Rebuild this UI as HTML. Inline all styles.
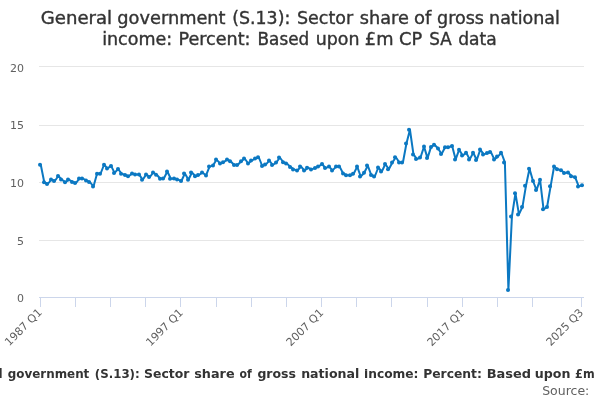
<!DOCTYPE html>
<html><head><meta charset="utf-8">
<style>
html,body{margin:0;padding:0;background:#fff;}
svg{display:block;font-family:"DejaVu Sans","Liberation Sans",sans-serif;}
</style></head><body>
<svg width="600" height="400" viewBox="0 0 600 400">
<rect width="600" height="400" fill="#fff"/>
<path d="M39 66.5H584M39 125.5H584M39 182.5H584M39 240.5H584" stroke="#e6e6e6" stroke-width="1" fill="none"/>
<path d="M39 297.5H584" stroke="#ccd6eb" stroke-width="1" fill="none"/>
<path d="M40.5 298V307M75.5 298V307M110.5 298V307M145.5 298V307M180.5 298V307M216.5 298V307M251.5 298V307M286.5 298V307M321.5 298V307M356.5 298V307M391.5 298V307M427.5 298V307M462.5 298V307M497.5 298V307M532.5 298V307M581.5 298V307" stroke="#ccd6eb" stroke-width="1" fill="none"/>
<path d="M40.76 164.75 L44.27 182.25 L47.79 184 L51.31 179.6 L54.82 181 L58.34 176 L61.85 179.6 L65.37 182.25 L68.89 179.6 L72.4 181.9 L75.92 183.1 L79.44 178.5 L82.95 178.5 L86.47 180.6 L89.98 182.1 L93.5 186.5 L97.02 173.75 L100.53 173.75 L104.05 164.75 L107.56 168.4 L111.08 165.9 L114.6 172.9 L118.11 169 L121.63 173.75 L125.15 175 L128.66 176.25 L132.18 173.5 L135.69 174.6 L139.21 174.6 L142.73 179.75 L146.24 174.4 L149.76 177.1 L153.27 172.5 L156.79 174.75 L160.31 178.75 L163.82 178.5 L167.34 171.5 L170.85 178.75 L174.37 178.5 L177.89 179.6 L181.4 181 L184.92 173.4 L188.44 179.75 L191.95 172.5 L195.47 176.25 L198.98 175 L202.5 172.5 L206.02 175.4 L209.53 166.6 L213.05 165.6 L216.56 159.6 L220.08 163.4 L223.6 162.25 L227.11 159.6 L230.63 161.25 L234.15 165 L237.66 165 L241.18 161.25 L244.69 158.5 L248.21 163.5 L251.73 160.6 L255.24 158.5 L258.76 157.25 L262.27 166 L265.79 164.6 L269.31 160.6 L272.82 165 L276.34 162.5 L279.85 157.5 L283.37 162.25 L286.89 163.5 L290.4 166.9 L293.92 169.4 L297.44 170.6 L300.95 166.5 L304.47 170.6 L307.98 167.75 L311.5 169.4 L315.02 168.1 L318.53 166.6 L322.05 164 L325.56 168.1 L329.08 166.6 L332.6 170.4 L336.11 166.6 L339.63 166.6 L343.15 173.5 L346.66 175.25 L350.18 175.25 L353.69 173.75 L357.21 166.6 L360.73 176.5 L364.24 172.75 L367.76 165.6 L371.27 175 L374.79 176.5 L378.31 167.5 L381.82 171.6 L385.34 164 L388.85 169.2 L392.37 162.5 L395.89 157.25 L399.4 162.5 L402.92 162.5 L406.44 143.5 L409.95 129.75 L413.47 154.4 L416.98 159.1 L420.5 157.5 L424.02 146.6 L427.53 158.1 L431.05 146.9 L434.56 144.75 L438.08 148.5 L441.6 154 L445.11 147.25 L448.63 147.25 L452.15 146 L455.66 159.4 L459.18 149.7 L462.69 155.6 L466.21 152.75 L469.73 159.4 L473.24 152.75 L476.76 160 L480.27 149.6 L483.79 154.4 L487.31 153.1 L490.82 151.9 L494.34 159.4 L497.85 156.6 L501.37 152.75 L504.89 162.4 L508.4 290 L511.92 216.5 L515.44 193.3 L518.95 214.4 L522.47 206.9 L525.98 185.7 L529.5 168.75 L533.02 181 L536.53 190.1 L540.05 179.7 L543.56 209.3 L547.08 207 L550.6 186.3 L554.11 166.5 L557.63 169.2 L561.15 170.25 L564.66 173 L568.18 172.5 L571.69 176.25 L575.21 177.3 L578.73 186.4 L582.24 185.25" stroke="#0b78c2" stroke-width="2" fill="none" stroke-linejoin="round" stroke-linecap="round"/>
<g fill="#0b78c2"><circle cx="40" cy="164.75" r="2"/><circle cx="44" cy="182.25" r="2"/><circle cx="47" cy="184" r="2"/><circle cx="51" cy="179.6" r="2"/><circle cx="54" cy="181" r="2"/><circle cx="58" cy="176" r="2"/><circle cx="61" cy="179.6" r="2"/><circle cx="65" cy="182.25" r="2"/><circle cx="68" cy="179.6" r="2"/><circle cx="72" cy="181.9" r="2"/><circle cx="75" cy="183.1" r="2"/><circle cx="79" cy="178.5" r="2"/><circle cx="82" cy="178.5" r="2"/><circle cx="86" cy="180.6" r="2"/><circle cx="89" cy="182.1" r="2"/><circle cx="93" cy="186.5" r="2"/><circle cx="97" cy="173.75" r="2"/><circle cx="100" cy="173.75" r="2"/><circle cx="104" cy="164.75" r="2"/><circle cx="107" cy="168.4" r="2"/><circle cx="111" cy="165.9" r="2"/><circle cx="114" cy="172.9" r="2"/><circle cx="118" cy="169" r="2"/><circle cx="121" cy="173.75" r="2"/><circle cx="125" cy="175" r="2"/><circle cx="128" cy="176.25" r="2"/><circle cx="132" cy="173.5" r="2"/><circle cx="135" cy="174.6" r="2"/><circle cx="139" cy="174.6" r="2"/><circle cx="142" cy="179.75" r="2"/><circle cx="146" cy="174.4" r="2"/><circle cx="149" cy="177.1" r="2"/><circle cx="153" cy="172.5" r="2"/><circle cx="156" cy="174.75" r="2"/><circle cx="160" cy="178.75" r="2"/><circle cx="163" cy="178.5" r="2"/><circle cx="167" cy="171.5" r="2"/><circle cx="170" cy="178.75" r="2"/><circle cx="174" cy="178.5" r="2"/><circle cx="177" cy="179.6" r="2"/><circle cx="181" cy="181" r="2"/><circle cx="184" cy="173.4" r="2"/><circle cx="188" cy="179.75" r="2"/><circle cx="191" cy="172.5" r="2"/><circle cx="195" cy="176.25" r="2"/><circle cx="198" cy="175" r="2"/><circle cx="202" cy="172.5" r="2"/><circle cx="206" cy="175.4" r="2"/><circle cx="209" cy="166.6" r="2"/><circle cx="213" cy="165.6" r="2"/><circle cx="216" cy="159.6" r="2"/><circle cx="220" cy="163.4" r="2"/><circle cx="223" cy="162.25" r="2"/><circle cx="227" cy="159.6" r="2"/><circle cx="230" cy="161.25" r="2"/><circle cx="234" cy="165" r="2"/><circle cx="237" cy="165" r="2"/><circle cx="241" cy="161.25" r="2"/><circle cx="244" cy="158.5" r="2"/><circle cx="248" cy="163.5" r="2"/><circle cx="251" cy="160.6" r="2"/><circle cx="255" cy="158.5" r="2"/><circle cx="258" cy="157.25" r="2"/><circle cx="262" cy="166" r="2"/><circle cx="265" cy="164.6" r="2"/><circle cx="269" cy="160.6" r="2"/><circle cx="272" cy="165" r="2"/><circle cx="276" cy="162.5" r="2"/><circle cx="279" cy="157.5" r="2"/><circle cx="283" cy="162.25" r="2"/><circle cx="286" cy="163.5" r="2"/><circle cx="290" cy="166.9" r="2"/><circle cx="293" cy="169.4" r="2"/><circle cx="297" cy="170.6" r="2"/><circle cx="300" cy="166.5" r="2"/><circle cx="304" cy="170.6" r="2"/><circle cx="307" cy="167.75" r="2"/><circle cx="311" cy="169.4" r="2"/><circle cx="315" cy="168.1" r="2"/><circle cx="318" cy="166.6" r="2"/><circle cx="322" cy="164" r="2"/><circle cx="325" cy="168.1" r="2"/><circle cx="329" cy="166.6" r="2"/><circle cx="332" cy="170.4" r="2"/><circle cx="336" cy="166.6" r="2"/><circle cx="339" cy="166.6" r="2"/><circle cx="343" cy="173.5" r="2"/><circle cx="346" cy="175.25" r="2"/><circle cx="350" cy="175.25" r="2"/><circle cx="353" cy="173.75" r="2"/><circle cx="357" cy="166.6" r="2"/><circle cx="360" cy="176.5" r="2"/><circle cx="364" cy="172.75" r="2"/><circle cx="367" cy="165.6" r="2"/><circle cx="371" cy="175" r="2"/><circle cx="374" cy="176.5" r="2"/><circle cx="378" cy="167.5" r="2"/><circle cx="381" cy="171.6" r="2"/><circle cx="385" cy="164" r="2"/><circle cx="388" cy="169.2" r="2"/><circle cx="392" cy="162.5" r="2"/><circle cx="395" cy="157.25" r="2"/><circle cx="399" cy="162.5" r="2"/><circle cx="402" cy="162.5" r="2"/><circle cx="406" cy="143.5" r="2"/><circle cx="409" cy="129.75" r="2"/><circle cx="413" cy="154.4" r="2"/><circle cx="416" cy="159.1" r="2"/><circle cx="420" cy="157.5" r="2"/><circle cx="424" cy="146.6" r="2"/><circle cx="427" cy="158.1" r="2"/><circle cx="431" cy="146.9" r="2"/><circle cx="434" cy="144.75" r="2"/><circle cx="438" cy="148.5" r="2"/><circle cx="441" cy="154" r="2"/><circle cx="445" cy="147.25" r="2"/><circle cx="448" cy="147.25" r="2"/><circle cx="452" cy="146" r="2"/><circle cx="455" cy="159.4" r="2"/><circle cx="459" cy="149.7" r="2"/><circle cx="462" cy="155.6" r="2"/><circle cx="466" cy="152.75" r="2"/><circle cx="469" cy="159.4" r="2"/><circle cx="473" cy="152.75" r="2"/><circle cx="476" cy="160" r="2"/><circle cx="480" cy="149.6" r="2"/><circle cx="483" cy="154.4" r="2"/><circle cx="487" cy="153.1" r="2"/><circle cx="490" cy="151.9" r="2"/><circle cx="494" cy="159.4" r="2"/><circle cx="497" cy="156.6" r="2"/><circle cx="501" cy="152.75" r="2"/><circle cx="504" cy="162.4" r="2"/><circle cx="508" cy="290" r="2"/><circle cx="511" cy="216.5" r="2"/><circle cx="515" cy="193.3" r="2"/><circle cx="518" cy="214.4" r="2"/><circle cx="522" cy="206.9" r="2"/><circle cx="525" cy="185.7" r="2"/><circle cx="529" cy="168.75" r="2"/><circle cx="533" cy="181" r="2"/><circle cx="536" cy="190.1" r="2"/><circle cx="540" cy="179.7" r="2"/><circle cx="543" cy="209.3" r="2"/><circle cx="547" cy="207" r="2"/><circle cx="550" cy="186.3" r="2"/><circle cx="554" cy="166.5" r="2"/><circle cx="557" cy="169.2" r="2"/><circle cx="561" cy="170.25" r="2"/><circle cx="564" cy="173" r="2"/><circle cx="568" cy="172.5" r="2"/><circle cx="571" cy="176.25" r="2"/><circle cx="575" cy="177.3" r="2"/><circle cx="578" cy="186.4" r="2"/><circle cx="582" cy="185.25" r="2"/></g>
<g font-size="18" fill="#333" stroke="#333" stroke-width="0.4"><text transform="translate(40.79,23.8) scale(1.0058,1)">General</text><text transform="translate(117.31,23.8) scale(0.9873,1)">government</text><text transform="translate(232.26,23.8) scale(0.9644,1)">(S.13):</text><text transform="translate(297.03,23.8) scale(0.9702,1)">Sector</text><text transform="translate(359.85,23.8) scale(0.9827,1)">share</text><text transform="translate(414.0,23.8) scale(1.0,1)">of</text><text transform="translate(437.03,23.8) scale(0.9746,1)">gross</text><text transform="translate(489.11,23.8) scale(0.9704,1)">national</text><text transform="translate(102.14,44.8) scale(0.9737,1)">income:</text><text transform="translate(178.48,44.8) scale(0.9767,1)">Percent:</text><text transform="translate(257.55,44.8) scale(0.9342,1)">Based</text><text transform="translate(315.71,44.8) scale(0.9679,1)">upon</text><text transform="translate(364.81,44.8) scale(0.989,1)">£m</text><text transform="translate(399.01,44.8) scale(0.9864,1)">CP</text><text transform="translate(429.37,44.8) scale(0.9304,1)">SA</text><text transform="translate(458.25,44.8) scale(0.95,1)">data</text></g>
<g font-size="11" fill="#606060" text-anchor="end">
<text x="24" y="72">20</text><text x="24" y="129">15</text><text x="24" y="187">10</text><text x="24" y="244.5">5</text><text x="24" y="302">0</text>
</g>
<g font-size="11" fill="#606060" text-anchor="end">
<text transform="translate(42.6,313.1) rotate(-45)">1987 Q1</text>
<text transform="translate(183.8,313.4) rotate(-45)">1997 Q1</text>
<text transform="translate(324.2,313.4) rotate(-45)">2007 Q1</text>
<text transform="translate(465.0,313.5) rotate(-45)">2017 Q1</text>
<text transform="translate(584,313.2) rotate(-45)">2025 Q3</text>
</g>
<g font-size="12" font-weight="bold" fill="#333"><text transform="translate(-50.3,377.5) scale(1.0,1)">General</text><text transform="translate(7.72,377.5) scale(0.9937,1)">government</text><text transform="translate(94.82,377.5) scale(0.9837,1)">(S.13):</text><text transform="translate(144.05,377.5) scale(1.0375,1)">Sector</text><text transform="translate(194.22,377.5) scale(1.0677,1)">share</text><text transform="translate(239.49,377.5) scale(0.9078,1)">of</text><text transform="translate(257.39,377.5) scale(1.0444,1)">gross</text><text transform="translate(301.15,377.5) scale(1.0481,1)">national</text><text transform="translate(363.98,377.5) scale(1.0214,1)">income:</text><text transform="translate(423.17,377.5) scale(1.0291,1)">Percent:</text><text transform="translate(486.72,377.5) scale(1.0799,1)">Based</text><text transform="translate(534.81,377.5) scale(1.0537,1)">upon</text><text transform="translate(575.11,377.5) scale(0.9344,1)">£m</text></g>
<text x="589.3" y="395" text-anchor="end" font-size="12.5" fill="#606060">Source:</text>
</svg>
</body></html>
